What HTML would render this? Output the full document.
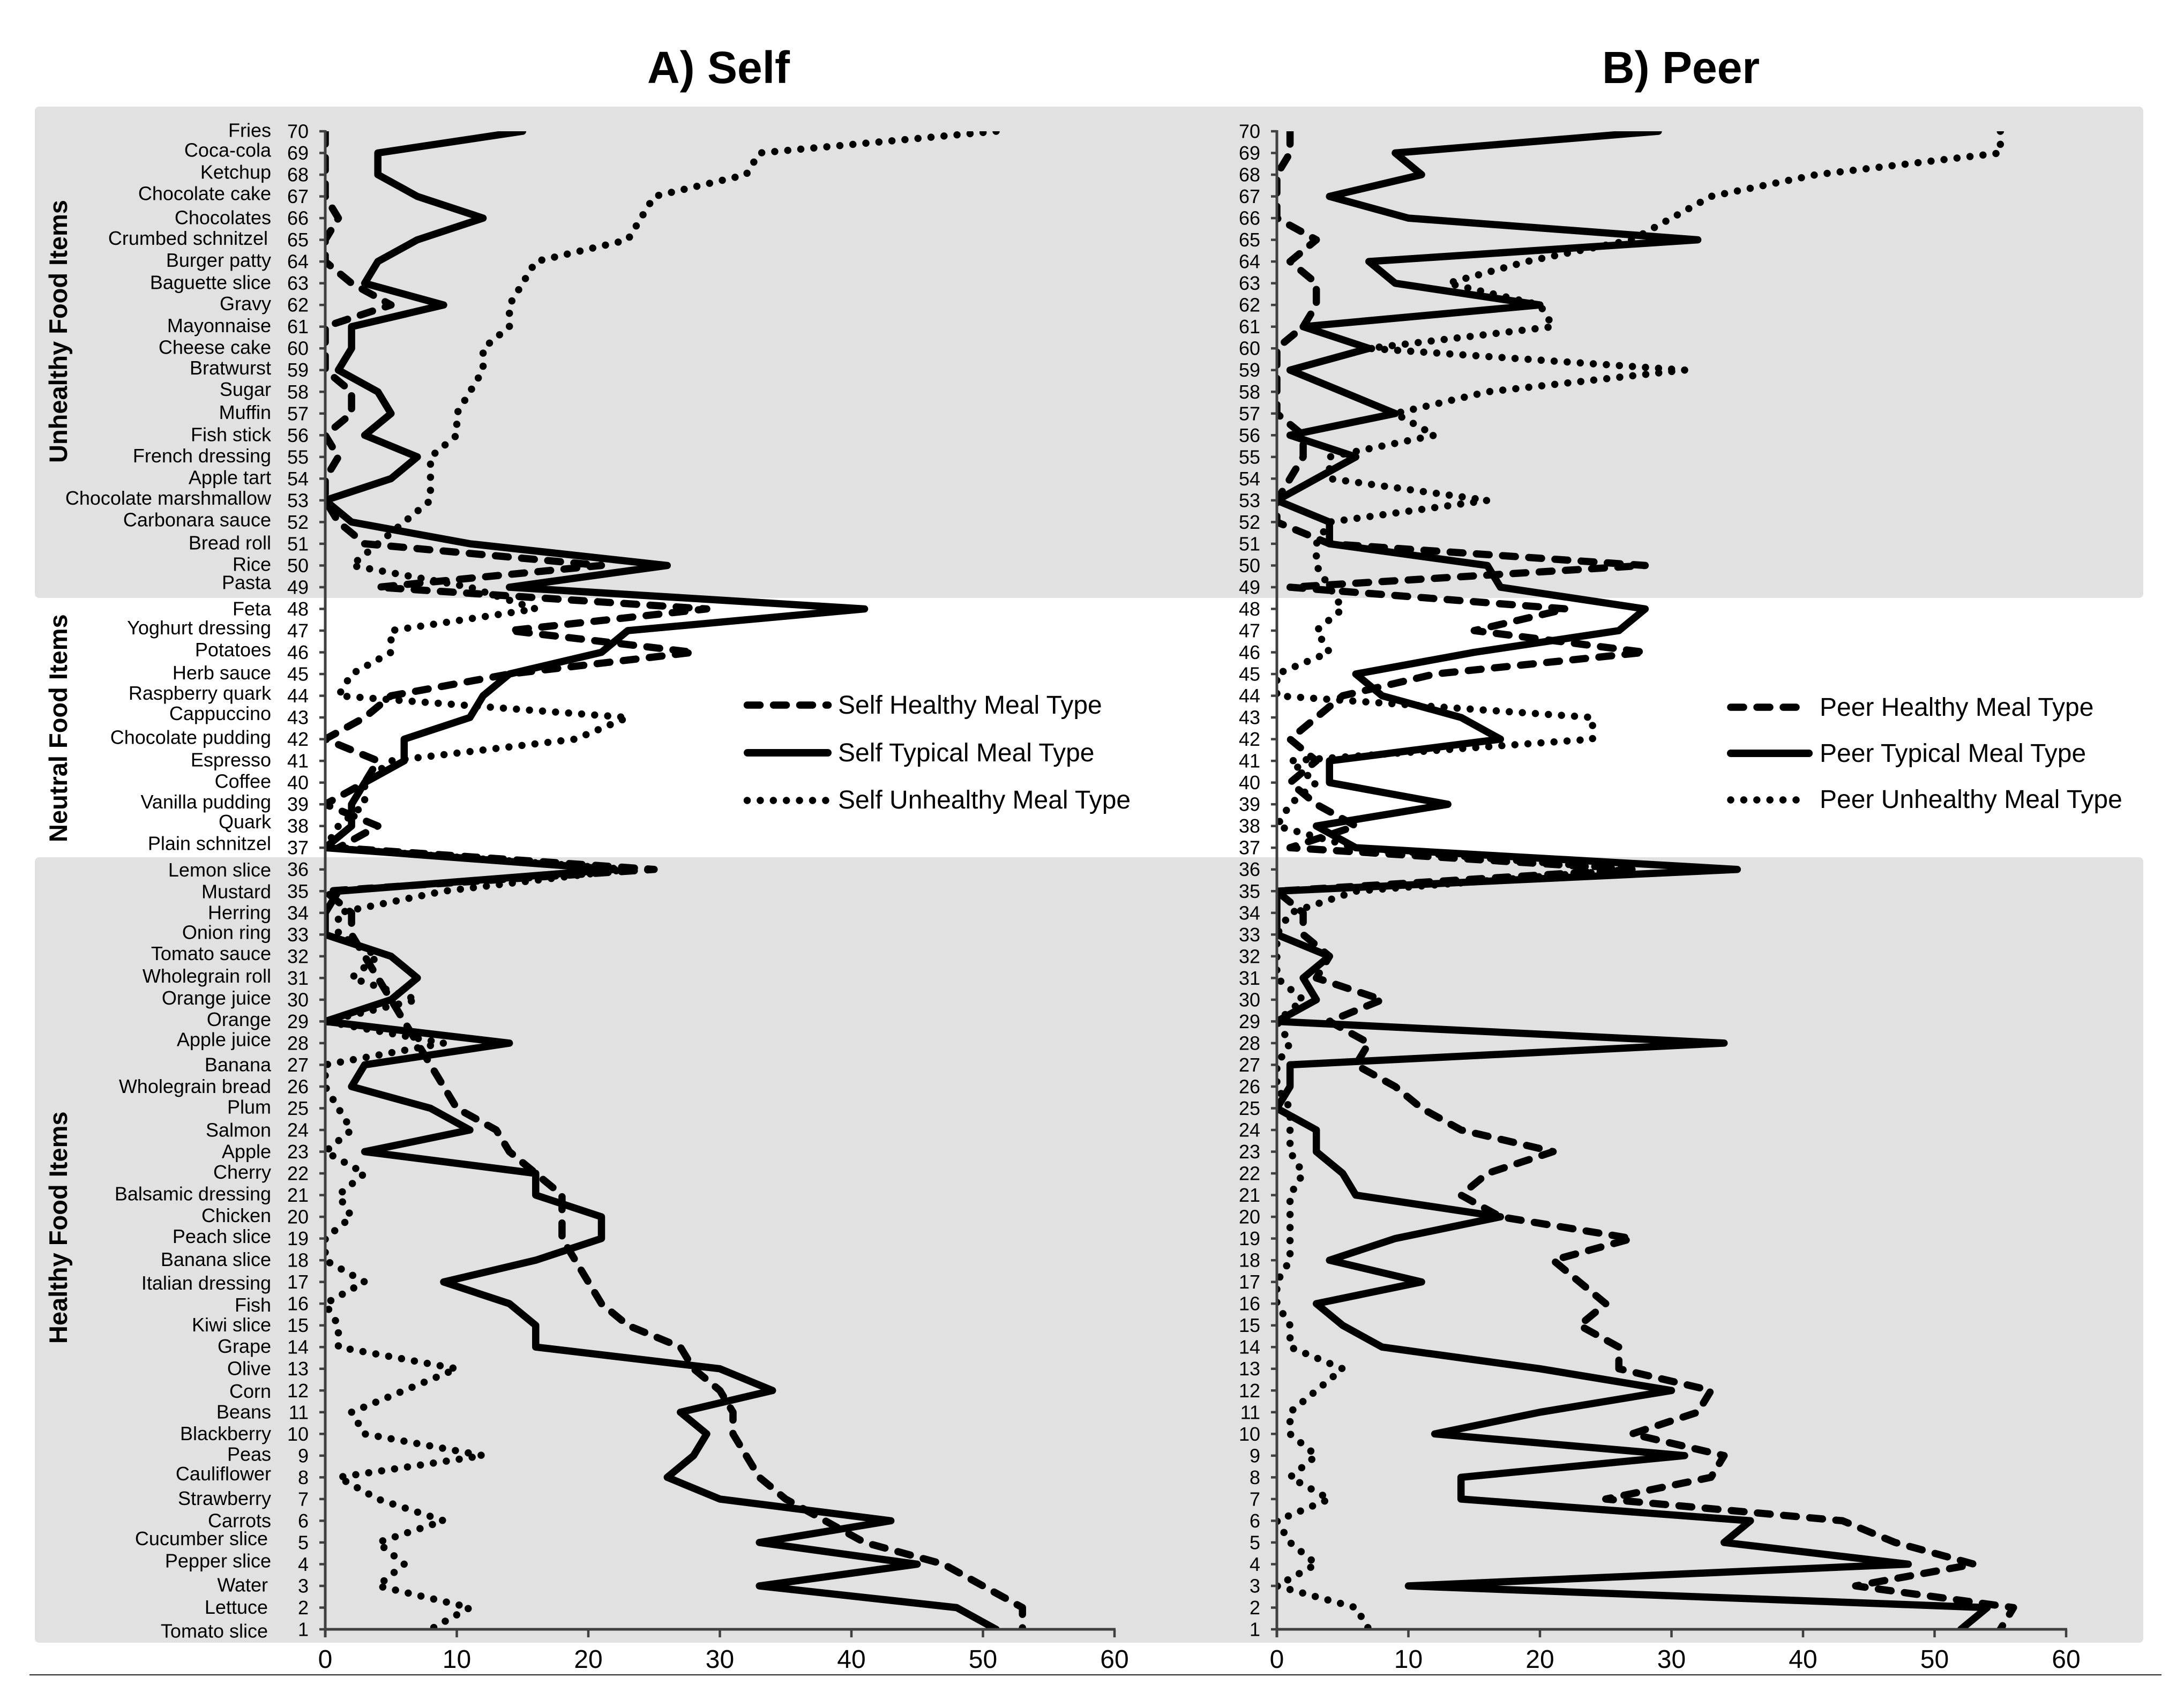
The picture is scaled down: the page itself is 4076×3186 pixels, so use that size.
<!DOCTYPE html>
<html lang="en">
<head>
<meta charset="utf-8">
<title>Self and Peer meal type food item rankings</title>
<style>
  html, body { margin: 0; padding: 0; background: #fff; }
  svg { display: block; font-family: "Liberation Sans", Arial, sans-serif; }
  text { fill: #000; }
</style>
</head>
<body>
<svg id="chart" xmlns="http://www.w3.org/2000/svg" width="4076" height="3186" viewBox="0 0 4076 3186">
  <rect x="0" y="0" width="4076" height="3186" fill="#ffffff"/>
  <rect x="65" y="199" width="3935" height="917" rx="8" fill="#e1e1e1"/>
  <rect x="65" y="1600" width="3935" height="1466" rx="8" fill="#e1e1e1"/>
  <line x1="55" y1="3126" x2="4034" y2="3126" stroke="#222" stroke-width="2"/>

  <text x="1208" y="155" font-size="84" font-weight="700">A) Self</text>
  <text x="2990" y="155" font-size="84" font-weight="700">B) Peer</text>

  <text transform="translate(125 864) rotate(-90)" font-size="47" font-weight="700">Unhealthy Food Items</text>
  <text transform="translate(125 1572) rotate(-90)" font-size="47" font-weight="700">Neutral Food Items</text>
  <text transform="translate(125 2508) rotate(-90)" font-size="47" font-weight="700">Healthy Food Items</text>

  <g id="panels"></g>

  <g fill="none" stroke="#000" stroke-linecap="round">
    <line x1="1394.5" y1="1316" x2="1545.5" y2="1316" stroke-width="13.5" stroke-dasharray="24 25"/>
    <line x1="1395" y1="1405" x2="1545" y2="1405" stroke-width="14"/>
    <line x1="1394.5" y1="1494" x2="1545.5" y2="1494" stroke-width="13.5" stroke-dasharray="0 24.4"/>
  </g>
  <text x="1564" y="1332" font-size="48">Self Healthy Meal Type</text>
  <text x="1564" y="1421" font-size="48">Self Typical Meal Type</text>
  <text x="1564" y="1509" font-size="48">Self Unhealthy Meal Type</text>

  <g fill="none" stroke="#000" stroke-linecap="round">
    <line x1="3230" y1="1320" x2="3376" y2="1320" stroke-width="13.5" stroke-dasharray="24 25"/>
    <line x1="3230" y1="1406" x2="3376" y2="1406" stroke-width="14"/>
    <line x1="3230" y1="1493" x2="3376" y2="1493" stroke-width="13.5" stroke-dasharray="0 24.4"/>
  </g>
  <text x="3396" y="1336" font-size="48">Peer Healthy Meal Type</text>
  <text x="3396" y="1422" font-size="48">Peer Typical Meal Type</text>
  <text x="3396" y="1508" font-size="48">Peer Unhealthy Meal Type</text>
</svg>

<script>
// ---- Data (listed top of the chart to bottom: rank 70 down to rank 1) ----
const categories = ["Fries","Coca-cola","Ketchup","Chocolate cake","Chocolates","Crumbed schnitzel","Burger patty","Baguette slice","Gravy","Mayonnaise",
  "Cheese cake","Bratwurst","Sugar","Muffin","Fish stick","French dressing","Apple tart","Chocolate marshmallow","Carbonara sauce","Bread roll",
  "Rice","Pasta","Feta","Yoghurt dressing","Potatoes","Herb sauce","Raspberry quark","Cappuccino","Chocolate pudding","Espresso",
  "Coffee","Vanilla pudding","Quark","Plain schnitzel","Lemon slice","Mustard","Herring","Onion ring","Tomato sauce","Wholegrain roll",
  "Orange juice","Orange","Apple juice","Banana","Wholegrain bread","Plum","Salmon","Apple","Cherry","Balsamic dressing",
  "Chicken","Peach slice","Banana slice","Italian dressing","Fish","Kiwi slice","Grape","Olive","Corn","Beans",
  "Blackberry","Peas","Cauliflower","Strawberry","Carrots","Cucumber slice","Pepper slice","Water","Lettuce","Tomato slice"];

const xTickLabels = [0, 10, 20, 30, 40, 50, 60];

const selfHealthy = [0,0,0,0,1,0,0,2,5,0,
  0,0,2,2,0,1,0,0,1,3,
  21,4,29,14,28,14,5,3,0,4,
  3,0,4,1,25,0,2,2,3,4,
  5,6,7,8,9,10,13,14,16,18,
  18,18,19,20,21,23,27,28,30,31,
  31,32,33,35,38,41,47,50,53,53];

const selfTypical = [15,4,4,7,12,7,4,3,9,2,
  2,1,4,5,3,7,5,0,2,11,
  26,14,41,23,21,14,12,11,6,6,
  3,2,2,0,22,1,0,0,5,7,
  5,0,14,3,2,8,11,3,16,16,
  21,21,16,9,14,16,16,30,34,27,
  29,28,26,30,43,33,45,33,48,51];

const selfUnhealthy = [51,33,32,25,24,23,16,15,14,14,
  12,12,11,10,10,8,8,8,6,4,
  2,11,16,5,5,2,1,23,19,5,
  3,3,1,0,23,9,1,1,4,2,
  7,0,9,0,0,1,2,0,3,1,
  2,0,0,3,0,1,1,10,6,2,
  3,12,1,4,9,4,6,4,11,8];

const peerHealthy = [1,1,0,0,0,3,1,3,3,2,
  0,0,0,0,2,2,1,0,0,4,
  28,1,22,15,28,12,5,3,1,3,
  1,3,6,1,27,0,2,2,4,3,
  8,4,7,6,9,11,14,21,16,14,
  17,27,21,23,25,23,26,26,33,32,
  27,34,33,25,43,47,53,44,56,55];

const peerTypical = [29,9,11,4,10,32,7,9,20,2,
  7,1,5,9,1,6,3,0,4,4,
  16,17,28,26,15,6,8,14,17,4,
  4,13,3,6,35,0,0,0,4,2,
  3,0,34,1,1,0,3,3,5,6,
  17,9,4,11,3,5,8,20,30,20,
  12,31,14,14,36,34,48,10,54,52];

const peerUnhealthy = [55,55,41,33,30,27,19,13,20,21,
  7,31,16,9,12,4,4,16,4,3,
  3,4,5,3,4,0,0,24,24,1,
  3,1,0,6,27,6,1,0,0,0,
  2,0,1,0,0,1,1,1,2,1,
  1,1,1,0,0,1,1,5,3,1,
  1,3,1,4,0,1,3,0,6,7];

// ---- Layout ----
const svgNS = "http://www.w3.org/2000/svg";
const panelsRoot = document.getElementById("panels");
const rankCount = categories.length;
const yTop = 245, yBottom = 3041, xMax = 60, plotWidth = 1473;

function yScale(rank) { return yBottom - (rank - 1) * (yBottom - yTop) / (rankCount - 1); }

function make(parent, tag, attrs, text) {
  const el = document.createElementNS(svgNS, tag);
  for (const k in attrs) el.setAttribute(k, attrs[k]);
  if (text !== undefined) el.textContent = text;
  parent.appendChild(el);
  return el;
}

// small per-label vertical adjustments of the printed food names (px)
const labelNudge = [-2,-5.4,-5,-5.4,-1.3,-3,-2.5,-1.7,-2.5,-2.3,-2,-4.2,-5,-2.4,-1.3,-2.4,-2.5,-4.3,-4.5,-2,-2.5,-9,
  -.6,-5.5,-5,-2.4,-5,-7.7,-3.8,-2,-2.5,-4.5,-8.3,-8.3,1,.6,-1,-4.5,-5.5,-3.8,-3.2,-3.8,-7,-.6,-.6,-2.5,
  0,-.7,-2.4,-2.8,-2.4,-4.2,-1.7,2,2.4,-1.4,-1.7,-.7,1,-.7,-1,-2.8,-6.6,-1.4,-.3,-7.6,-6.6,-2,-1,2.8];
const labelsShiftedLeft = ["Crumbed schnitzel","Cucumber slice","Water","Lettuce","Tomato slice"];

function drawPanel(id, x0, showCategories, series) {
  const xScale = v => x0 + v * plotWidth / xMax;
  const g = make(panelsRoot, "g", {});
  
  

  const clipId = id + "-clip";
  const defs = make(g, "defs", {});
  const clip = make(defs, "clipPath", { id: clipId });
  make(clip, "rect", { x: xScale(0), y: yTop, width: xScale(xMax) - xScale(0), height: yBottom - yTop });

  // series lines
  series.forEach(s => {
    const pts = s.values.map((v, i) => xScale(v).toFixed(1) + "," + yScale(rankCount - i).toFixed(1)).join(" ");
    const line = make(g, "polyline", {
      points: pts, fill: "none", stroke: "#000", "stroke-width": s.width,
      "stroke-linecap": "round", "stroke-linejoin": "round", "clip-path": "url(#" + clipId + ")"
    });
    if (s.dash) line.setAttribute("stroke-dasharray", s.dash);
    
    
  });

  // y axis
  const yAxis = make(g, "line", { x1: xScale(0), y1: yTop - 2, x2: xScale(0), y2: yBottom + 15, stroke: "#404040", "stroke-width": 5 });
  
  

  // x axis
  const xAxis = make(g, "line", { x1: xScale(0), y1: yBottom, x2: xScale(xMax) + 2, y2: yBottom, stroke: "#404040", "stroke-width": 5 });
  
  

  categories.forEach((name, i) => {
    const rank = rankCount - i;
    const y = yScale(rank);
    const tick = make(g, "line", { x1: xScale(0) - 11, y1: y, x2: xScale(0), y2: y, stroke: "#404040", "stroke-width": 4.5 });
    
    

    const num = make(g, "text", { x: xScale(0) - 31, y: y + 12.5, "font-size": 36, "text-anchor": "end" }, String(rank));
    
    

    if (showCategories) {
      const lx = labelsShiftedLeft.indexOf(name) >= 0 ? 500 : 506;
      const lab = make(g, "text", { x: lx, y: y + 12.5 + labelNudge[i], "font-size": 36, "text-anchor": "end" }, name);
      
      
    }
  });

  xTickLabels.forEach(v => {
    const x = xScale(v);
    const tick = make(g, "line", { x1: x, y1: yBottom, x2: x, y2: yBottom + 15, stroke: "#404040", "stroke-width": 4.5 });
    
    

    const lab = make(g, "text", { x: x, y: 3113, "font-size": 48, "text-anchor": "middle" }, String(v));
    
    
  });
}

const dashStyle = "24 25";
const dotStyle = "0 24.4";

drawPanel("self", 607, true, [
  { name: "self-healthy-line", values: selfHealthy, width: 13.5, dash: dashStyle },
  { name: "self-typical-line", values: selfTypical, width: 13.5 },
  { name: "self-unhealthy-line", values: selfUnhealthy, width: 13.5, dash: dotStyle }
]);

drawPanel("peer", 2383, false, [
  { name: "peer-healthy-line", values: peerHealthy, width: 13.5, dash: dashStyle },
  { name: "peer-typical-line", values: peerTypical, width: 13.5 },
  { name: "peer-unhealthy-line", values: peerUnhealthy, width: 13.5, dash: dotStyle }
]);
</script>
</body>
</html>
